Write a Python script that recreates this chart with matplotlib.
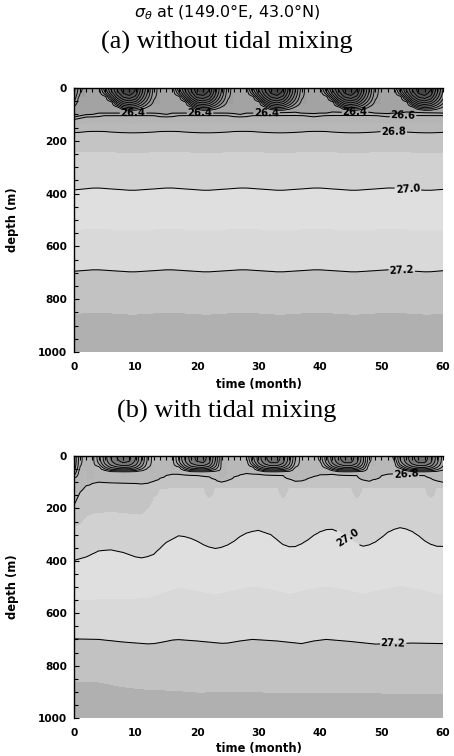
import numpy as np
import matplotlib
matplotlib.use("Agg")
import matplotlib.pyplot as plt

# ---------------------------------------------------------------------------
# Data: potential density (sigma-theta) at 149.0E, 43.0N, monthly for 5 years
# ---------------------------------------------------------------------------
months = np.arange(61)                      # model output, month 0..60
depth = np.arange(0.0, 1001.0, 5.0)         # m

# (a) without tidal mixing -------------------------------------------------
# surface sigma-theta
surf_a = [25.75, 26.15, 26.30, 26.35, 26.25, 25.70, 25.20, 24.80, 24.50, 24.40, 24.60, 25.10,
          25.60, 26.10, 26.30, 26.35, 26.25, 25.70, 25.20, 24.80, 24.45, 24.40, 24.60, 25.10,
          25.60, 26.10, 26.30, 26.35, 26.20, 25.70, 25.20, 24.80, 24.50, 24.40, 24.60, 25.10,
          25.60, 26.10, 26.30, 26.35, 26.20, 25.70, 25.20, 24.80, 24.50, 24.40, 24.60, 25.10,
          25.60, 26.10, 26.30, 26.35, 26.20, 25.70, 25.20, 24.80, 24.50, 24.40, 24.60, 25.10,
          25.60]
# depth (m) of the seasonal thermocline (0 = well mixed)
therm_a = [80, 40, 0, 0, 10, 35, 55, 75, 85, 88, 88, 86,
           80, 70, 0, 0, 10, 35, 55, 75, 85, 88, 88, 86,
           80, 70, 0, 0, 10, 35, 55, 75, 85, 88, 88, 86,
           80, 70, 0, 0, 10, 35, 55, 75, 85, 88, 88, 86,
           80, 70, 0, 0, 10, 35, 55, 75, 85, 88, 88, 86,
           80]
winter_a = 26.35          # sigma-theta of the remnant winter water

t_base_a = [0, 2, 5, 12, 15, 18, 24, 27, 30, 36, 39, 42, 48, 51, 54, 60]
d264_a = [110, 102, 96, 95, 100, 95, 95, 100, 95, 94, 99, 94, 94, 99, 94, 95]

t_wave_a = [0, 3.5, 9.5, 15.5, 21.5, 27.5, 33.5, 39.5, 45.5, 51.5, 57.5, 60]
d268_a = [168, 163, 170, 163, 170, 163, 170, 163, 170, 163, 170, 167]
d269_a = [246, 242, 249, 242, 249, 242, 249, 242, 249, 242, 249, 246]
d270_a = [386, 378, 388, 378, 388, 378, 388, 378, 388, 378, 388, 384]
d271_a = [540, 535, 542, 535, 542, 535, 542, 535, 542, 535, 542, 540]
d272_a = [694, 688, 697, 688, 697, 688, 697, 688, 697, 688, 697, 692]
d273_a = [858, 852, 861, 852, 861, 852, 861, 852, 861, 852, 861, 856]

# (b) with tidal mixing ----------------------------------------------------
surf_b = [26.00, 26.55, 26.70, 26.68, 26.30, 25.90, 25.60, 25.40, 25.30, 25.35, 25.60, 26.00,
          26.45, 26.70, 26.72, 26.72, 26.68, 26.20, 25.80, 25.50, 25.35, 25.30, 25.50, 26.00,
          26.65, 26.70, 26.72, 26.72, 26.62, 26.10, 25.70, 25.45, 25.30, 25.30, 25.50, 25.90,
          26.40, 26.70, 26.72, 26.72, 26.55, 26.10, 25.70, 25.45, 25.30, 25.30, 25.50, 25.95,
          26.55, 26.70, 26.72, 26.70, 26.58, 26.00, 25.70, 25.45, 25.30, 25.30, 25.50, 25.90,
          26.30]
therm_b = [90, 60, 0, 0, 45, 58, 62, 62, 62, 62, 62, 60,
           55, 0, 0, 0, 0, 45, 58, 62, 62, 62, 62, 62,
           0, 0, 0, 0, 20, 45, 58, 62, 62, 62, 62, 62,
           50, 0, 0, 0, 30, 50, 58, 62, 62, 62, 62, 62,
           40, 0, 0, 0, 25, 50, 58, 62, 62, 62, 62, 62,
           60]
winter_b = 26.72

t268_b = [0, 0.7, 1.5, 2.5, 4, 8, 11, 12.3, 13.5, 15.5, 17, 20, 22.5, 23.5, 24.5, 26, 27.5,
          30, 34, 35.5, 36.5, 37.5, 39.5, 42, 46, 47.5, 48.5, 50.5, 53, 57, 59, 60]
d268_b = [187, 150, 118, 105, 100, 103, 106, 103, 90, 68, 70, 74, 80, 100, 98, 80, 66,
          70, 74, 95, 100, 90, 72, 70, 75, 100, 95, 68, 68, 75, 95, 100]

t269_b = [0, 1, 2, 3, 6, 9, 11, 12, 13, 14, 16, 21, 22, 23, 33, 34, 35, 45, 46, 47, 57, 58, 59, 60]
d269_b = [272, 265, 235, 222, 215, 222, 225, 205, 160, 130, 122, 125, 165, 125, 125, 165, 125,
          125, 165, 125, 125, 165, 125, 125]

t270_b = [0, 2, 4, 6, 8, 10, 11.3, 13, 15, 17.2, 19.5, 21.5, 23.3, 25.5, 27.5, 29.8, 32, 34,
          35.5, 37.5, 39.5, 41.6, 43.7, 45.7, 47.3, 49.3, 51.3, 53.3, 55.4, 57.5, 59.3, 60]
d270_b = [398, 385, 362, 358, 368, 385, 390, 375, 330, 302, 318, 345, 355, 335, 298, 282, 300,
          338, 351, 330, 293, 276, 295, 333, 347, 325, 285, 271, 292, 333, 347, 345]

t271_b = [0, 6, 12, 14.5, 17, 20, 23, 26, 29, 32, 35, 38, 41, 44, 47, 50, 53, 56, 59, 60]
d271_b = [552, 548, 545, 525, 505, 518, 530, 515, 500, 512, 528, 512, 500, 512, 528, 512, 498,
          510, 528, 530]

t272_b = [0, 4, 8, 12.5, 14.5, 16.5, 20, 24.5, 27, 29, 33, 37, 39, 41, 45, 49, 55, 60]
d272_b = [698, 700, 710, 718, 710, 700, 706, 716, 706, 700, 706, 716, 706, 700, 708, 718, 714, 716]

t273_b = [0, 4, 8, 12, 16, 20, 28, 36, 44, 52, 60]
d273_b = [862, 866, 885, 895, 898, 905, 903, 908, 905, 910, 912]

bottom_sigma = 27.36


def on_months(t, d):
    return np.interp(months, t, d)


def sigma_field(surface, therm, winter, power, iso_levels, iso_depths):
    """Build sigma(depth, month) from surface density, thermocline depth
    and the depths of the isopycnals below."""
    field = np.empty((depth.size, months.size))
    for j, s in enumerate(surface):
        zk = [d[j] for d in iso_depths] + [1000.0]
        sk = list(iso_levels) + [bottom_sigma]
        col = np.interp(depth, zk, sk)
        D = zk[0]
        h = min(therm[j], D - 5.0)
        if h > 0 and s < winter:
            # warm seasonal layer over the remnant winter water
            upper = np.where(depth < h,
                             s + (winter - s) * (depth / h) ** power,
                             np.interp(depth, [h, D], [winter, sk[0]]))
            col = np.where(depth < D, upper, col)
        else:
            # mixed layer down to the first denser isopycnal
            k = next(i for i, L in enumerate(sk) if L > s)
            dn = zk[k]
            mixed = np.interp(depth, [0.0, 0.85 * dn, dn], [s, s, sk[k]])
            col = np.where(depth < dn, mixed, col)
        field[:, j] = col
    return field


base_a = on_months(t_base_a, d264_a)
iso_a = [base_a, base_a + 8.0] + [on_months(t_wave_a, d) for d in
                                  (d268_a, d269_a, d270_a, d271_a, d272_a, d273_a)]
sig_a = sigma_field(surf_a, therm_a, winter_a, 2.0,
                    [26.4, 26.6, 26.8, 26.9, 27.0, 27.1, 27.2, 27.3], iso_a)

iso_b = [on_months(t268_b, d268_b), on_months(t269_b, d269_b), on_months(t270_b, d270_b),
         on_months(t271_b, d271_b), on_months(t272_b, d272_b), on_months(t273_b, d273_b)]
sig_b = sigma_field(surf_b, therm_b, winter_b, 3.0,
                    [26.8, 26.9, 27.0, 27.1, 27.2, 27.3], iso_b)

# ---------------------------------------------------------------------------
# Shading and contour levels
# ---------------------------------------------------------------------------
fill_levels = list(np.round(np.arange(24.2, 27.35, 0.1), 2)) + [27.6]
upper_grays = {26.4: 0.66, 26.5: 0.68, 26.6: 0.71, 26.7: 0.72, 26.8: 0.77,
               26.9: 0.82, 27.0: 0.875, 27.1: 0.85, 27.2: 0.76, 27.3: 0.69}


def band_gray(v):
    v = round(v, 2)
    if v in upper_grays:
        return upper_grays[v]
    return max(0.20, 0.64 - 0.02 * round((26.3 - v) / 0.1))


fill_colors = [str(band_gray(v)) for v in fill_levels[:-1]]
line_levels = [round(v, 2) for v in np.arange(24.6, 27.25, 0.2)]

tick_font = 7.6
label_font = {"family": "DejaVu Sans", "size": 8.3, "weight": "bold"}

fig = plt.figure(figsize=(4.54, 7.56), dpi=100)
W, H = 454.0, 756.0
ax_a = fig.add_axes([74 / W, (H - 352) / H, 369 / W, 264 / H])
ax_b = fig.add_axes([74 / W, (H - 718) / H, 369 / W, 262 / H])

fig.text(0.5, 1 - 12 / H, r"$\sigma_\theta$ at (149.0°E, 43.0°N)",
         ha="center", va="center", fontsize=11.5, family="DejaVu Sans")
fig.text(0.5, 1 - 42 / H, "(a) without tidal mixing", ha="center", va="center",
         fontsize=19, family="Liberation Serif")
fig.text(0.5, 1 - 411 / H, "(b) with tidal mixing", ha="center", va="center",
         fontsize=19, family="Liberation Serif")

labels_a = {26.4: [(9.6, 95), (20.5, 95), (31.3, 94), (45.7, 94)],
            26.6: [(53.5, 104)],
            26.8: [(52.0, 165)],
            27.0: [(54.3, 380)],
            27.2: [(53.3, 690)]}
labels_b = {26.8: [(54.0, 70)],
            27.0: [(44.5, 315)],
            27.2: [(51.9, 714)]}

for ax, sig, labels in ((ax_a, sig_a, labels_a), (ax_b, sig_b, labels_b)):
    ax.contourf(months, depth, sig, levels=fill_levels, colors=fill_colors)
    plain = [v for v in line_levels if v not in labels]
    ax.contour(months, depth, sig, levels=plain, colors="k", linewidths=0.65)
    lab_levels = sorted(labels)
    cs = ax.contour(months, depth, sig, levels=lab_levels, colors="k", linewidths=0.75)
    positions = [p for lev in lab_levels for p in labels[lev]]
    texts = ax.clabel(cs, manual=positions, fmt="%.1f", fontsize=7.3,
                      inline=True, inline_spacing=2)
    for t in texts:
        t.set_fontweight("bold")
    ax.set_xlim(0, 60)
    ax.set_ylim(1000, 0)
    ax.set_xticks(range(0, 61, 10))
    ax.set_xticks(range(0, 61, 1), minor=True)
    ax.set_yticks(range(0, 1001, 200))
    ax.set_yticks(range(0, 1001, 50), minor=True)
    ax.tick_params(axis="x", which="both", bottom=False, top=True, labelbottom=True,
                   labeltop=False, direction="in", length=3, width=0.8, pad=7,
                   labelsize=tick_font)
    ax.tick_params(axis="y", which="both", left=True, right=False, direction="in",
                   width=0.8, pad=5, labelsize=tick_font)
    ax.tick_params(axis="y", which="major", length=3.5)
    ax.tick_params(axis="y", which="minor", length=3)
    for lab in ax.get_xticklabels() + ax.get_yticklabels():
        lab.set_fontweight("bold")
    for name in ("bottom", "right"):
        ax.spines[name].set_visible(False)
    for name in ("left", "top"):
        ax.spines[name].set_linewidth(1.0)
    ax.set_xlabel("time (month)", fontdict=label_font)
    ax.set_ylabel("depth (m)", fontdict=label_font)
    ax.yaxis.set_label_coords(-0.15, 0.5)

ax_a.xaxis.set_label_coords(0.5, -0.097)
ax_b.xaxis.set_label_coords(0.5, -0.09)

fig.savefig("out.png", dpi=100)
